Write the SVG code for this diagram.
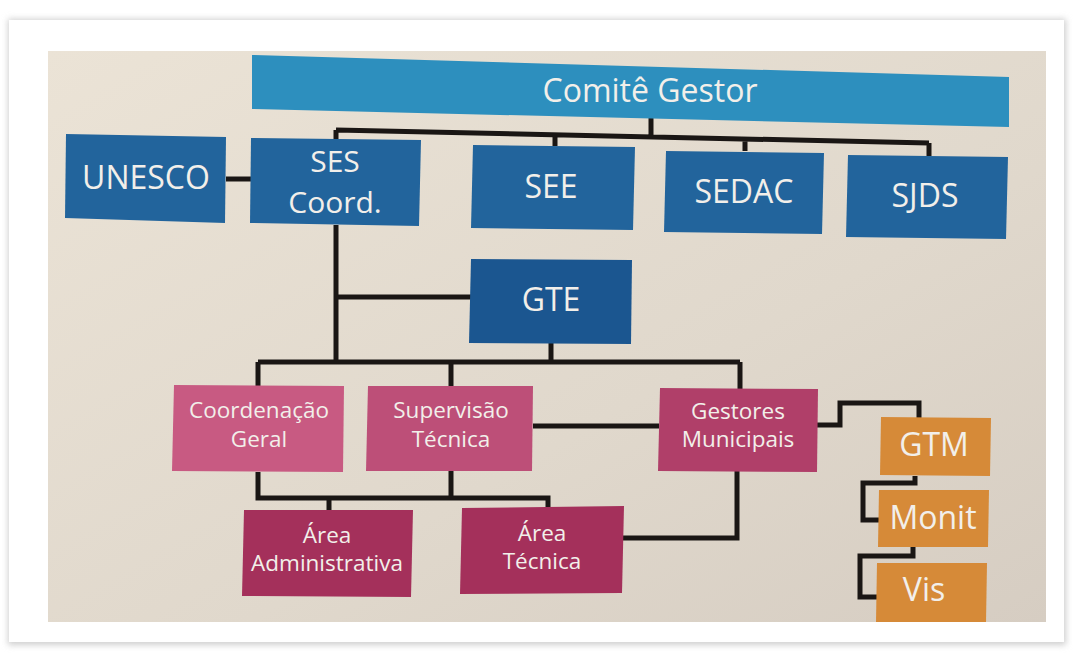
<svg xmlns="http://www.w3.org/2000/svg" width="1074" height="654" viewBox="0 0 1074 654">
<defs>
<linearGradient id="bg" x1="0" y1="0" x2="1" y2="1">
<stop offset="0" stop-color="#ebe3d6"/>
<stop offset="0.6" stop-color="#e0d8cc"/>
<stop offset="1" stop-color="#d6cdc2"/>
</linearGradient>
<filter id="sh" x="-5%" y="-5%" width="110%" height="110%">
<feGaussianBlur stdDeviation="3"/>
</filter>
</defs>
<style>
.lbl{font-family:"Open Sans","Liberation Sans",sans-serif;fill:#f2efea;text-anchor:middle}
.big{font-size:32px}
.ses{font-size:30px}
.mid{font-size:22.5px}
.blue{fill:#22649c}
.dblue{fill:#1b5690}
.cyan{fill:#2d8fbe}
.pink1{fill:#c85a82}
.pink2{fill:#bd4f78}
.pink3{fill:#b03f69}
.pink4{fill:#a4305b}
.orange{fill:#d68a38}
.edge{fill:none;stroke:#1a1614;stroke-width:5;stroke-linejoin:miter}
</style>
<rect x="0" y="0" width="1074" height="654" fill="#ffffff"/>
<rect x="8" y="19" width="1058" height="626" fill="#cfcfcf" filter="url(#sh)"/>
<rect x="9" y="20" width="1055" height="622" fill="#ffffff"/>
<rect x="48" y="51" width="998" height="571" fill="url(#bg)"/>

<g id="connectors">
<path class="edge" d="M651 118 V136 M336 130 L929 143 M336 130 V139 M555 135 V146 M745 139 V151 M929 143 V156"/>
<path class="edge" d="M226 179 H251"/>
<path class="edge" d="M336 225 V362 M336 297 H471"/>
<path class="edge" d="M551 343 V362 M258 362 H740 M258 362 V386 M451 362 V387 M740 362 V389"/>
<path class="edge" d="M533 426 H659"/>
<path class="edge" d="M817 425 H840 V403 H919 V418"/>
<path class="edge" d="M258 472 V498 H548 V508 M451 471 V498 M329 498 V511"/>
<path class="edge" d="M737 471 V538 H623"/>
<path class="edge" d="M915 476 V483 H863 V520 H879"/>
<path class="edge" d="M913 547 V556 H860 V597 H877"/>
</g>

<g id="comite">
<polygon class="cyan" points="252,55 1009,77 1009,127 252,109"/>
<text class="lbl big" x="650" y="102">Comitê Gestor</text>
</g>
<g id="unesco">
<polygon class="blue" points="66,134 226,137 225,223 65,218"/>
<text class="lbl big" x="146" y="189">UNESCO</text>
</g>
<g id="ses">
<polygon class="blue" points="251,138 421,140 419,226 250,223"/>
<text class="lbl ses" x="335" y="172">SES</text>
<text class="lbl ses" x="335" y="213">Coord.</text>
</g>
<g id="see">
<polygon class="blue" points="473,145 635,147 633,230 471,228"/>
<text class="lbl big" x="551" y="198">SEE</text>
</g>
<g id="sedac">
<polygon class="blue" points="666,151 824,153 822,234 664,232"/>
<text class="lbl big" x="744" y="203">SEDAC</text>
</g>
<g id="sjds">
<polygon class="blue" points="848,155 1008,157 1006,239 846,237"/>
<text class="lbl big" x="925" y="207">SJDS</text>
</g>
<g id="gte">
<polygon class="dblue" points="471,259 632,260 631,344 469,343"/>
<text class="lbl big" x="551" y="311">GTE</text>
</g>
<g id="coordenacao">
<polygon class="pink1" points="174,385 344,386 343,472 172,471"/>
<text class="lbl mid" x="259" y="418">Coordenação</text>
<text class="lbl mid" x="259" y="447">Geral</text>
</g>
<g id="supervisao">
<polygon class="pink2" points="368,386 533,386 532,471 366,471"/>
<text class="lbl mid" x="451" y="418">Supervisão</text>
<text class="lbl mid" x="451" y="447">Técnica</text>
</g>
<g id="gestores">
<polygon class="pink3" points="660,388 818,389 817,472 658,471"/>
<text class="lbl mid" x="738" y="419">Gestores</text>
<text class="lbl mid" x="738" y="447">Municipais</text>
</g>
<g id="area-adm">
<polygon class="pink4" points="244,510 413,510 411,597 242,596"/>
<text class="lbl mid" x="327" y="543">Área</text>
<text class="lbl mid" x="327" y="571">Administrativa</text>
</g>
<g id="area-tec">
<polygon class="pink4" points="462,508 624,506 622,593 460,594"/>
<text class="lbl mid" x="542" y="541">Área</text>
<text class="lbl mid" x="542" y="569">Técnica</text>
</g>
<g id="gtm">
<polygon class="orange" points="881,417 991,418 990,476 880,475"/>
<text class="lbl big" x="934" y="456">GTM</text>
</g>
<g id="monit">
<polygon class="orange" points="879,490 989,490 988,547 878,547"/>
<text class="lbl big" x="933" y="529">Monit</text>
</g>
<g id="vis">
<polygon class="orange" points="877,563 987,563 986,622 876,622"/>
<text class="lbl big" x="924" y="601">Vis</text>
</g>
</svg>
